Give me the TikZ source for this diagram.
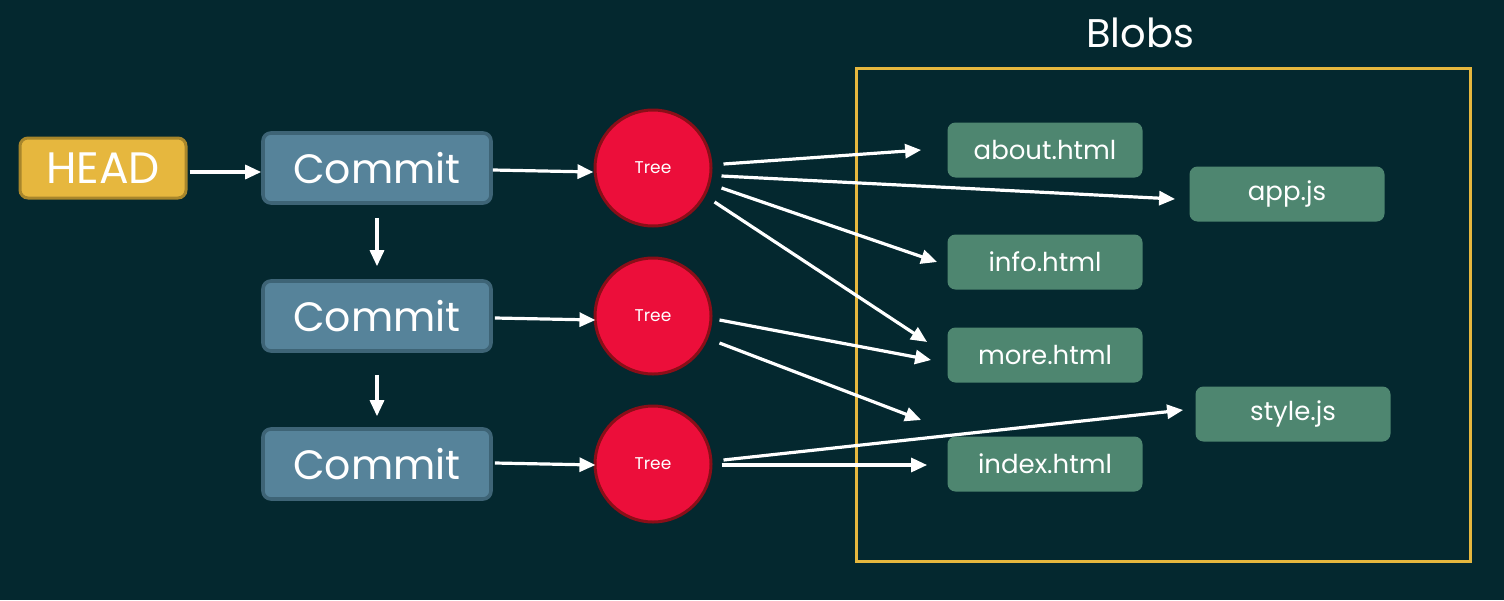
\documentclass[tikz,border=0pt]{standalone}
\usepackage{fontspec}
\setmainfont{Poppins}
\usetikzlibrary{arrows.meta}
\definecolor{bgcol}{HTML}{04282F}
\definecolor{headfill}{HTML}{E6B73E}
\definecolor{headedge}{HTML}{A8862B}
\definecolor{commitfill}{HTML}{56839A}
\definecolor{commitedge}{HTML}{3E6476}
\definecolor{treefill}{HTML}{EC0E3A}
\definecolor{treeedge}{HTML}{8A0E18}
\definecolor{blobfill}{HTML}{4E8670}
\tikzset{
  arr/.style={-{Triangle[length=8pt,width=7pt]}, white, line width=1.6pt},
  head/.style={draw=headedge, fill=headfill, line width=1.5pt, rounded corners=4pt, minimum width=83pt, minimum height=30pt, inner sep=0pt, text=white, font=\fontsize{22}{24}\selectfont},
  commit/.style={draw=commitedge, fill=commitfill, line width=1.8pt, rounded corners=4pt, minimum width=114pt, minimum height=35pt, inner sep=0pt, text=white, font=\fontsize{20.5}{24}\selectfont},
  tree/.style={circle, draw=treeedge, fill=treefill, line width=1.5pt, minimum size=58pt, inner sep=0pt, text=white, font=\fontsize{8.5}{10}\selectfont},
  blob/.style={fill=blobfill, rounded corners=4pt, minimum width=97.5pt, minimum height=27.5pt, inner sep=0pt, text=white, font=\fontsize{13}{15}\selectfont}
}
\begin{document}
\begin{tikzpicture}[x=0.5pt,y=-0.5pt]
\fill[bgcol] (0,0) rectangle (1504,600);
\useasboundingbox (0,0) rectangle (1504,600);

% blob area
\draw[headfill, line width=1.5pt] (856,68) rectangle (1470,561);
\node[text=white, font=\fontsize{20}{22}\selectfont] (blobs) at (1140,33) {Blobs};

\node[head] (head) at (103,168) {HEAD};
\node[commit] (c1) at (377,168) {Commit};
\node[commit] (c2) at (377,316) {Commit};
\node[commit] (c3) at (377,464) {Commit};
\node[tree] (t1) at (653,168) {Tree};
\node[tree] (t2) at (653,316) {Tree};
\node[tree] (t3) at (653,464) {Tree};

\node[blob] (about) at (1045,150) {about.html};
\node[blob] (app) at (1287,194) {app.js};
\node[blob] (info) at (1045,262) {info.html};
\node[blob] (more) at (1045,355) {more.html};
\node[blob] (style) at (1293,414) {style.js};
\node[blob] (index) at (1045,464) {index.html};

% history
\draw[arr] ([shift={(2,4)}]head.east) -- ([shift={(0,4)}]c1.west);
\draw[arr] ([shift={(0,13)}]c1.south) -- ([shift={(0,-13)}]c2.north);
\draw[arr] ([shift={(0,22)}]c2.south) -- ([shift={(0,-11)}]c3.north);
\draw[arr] ([shift={(0,2)}]c1.east) -- ([shift={(0,4)}]t1.west);
\draw[arr] ([shift={(2,2)}]c2.east) -- ([shift={(2,4)}]t2.west);
\draw[arr] ([shift={(2,-1)}]c3.east) -- ([shift={(2,1)}]t3.west);

% trees to blobs
\draw[arr] ([shift={(11,-4)}]t1.east) -- ([shift={(-26,0)}]about.west);
\draw[arr] ([shift={(9,8)}]t1.east) -- ([shift={(-14,5)}]app.west);
\draw[arr] ([shift={(9,20)}]t1.east) -- ([shift={(-10,0)}]info.west);
\draw[arr] ([shift={(2,34)}]t1.east) -- ([shift={(-20,-13)}]more.west);
\draw[arr] ([shift={(7,4)}]t2.east) -- ([shift={(-16,5)}]more.west);
\draw[arr] ([shift={(7,27)}]t2.east) -- ([shift={(-26,-44)}]index.west);
\draw[arr] ([shift={(11,-4)}]t3.east) -- ([shift={(-12,-4)}]style.west);
\draw[arr] ([shift={(9,1)}]t3.east) -- ([shift={(-20,1)}]index.west);
\end{tikzpicture}
\end{document}
